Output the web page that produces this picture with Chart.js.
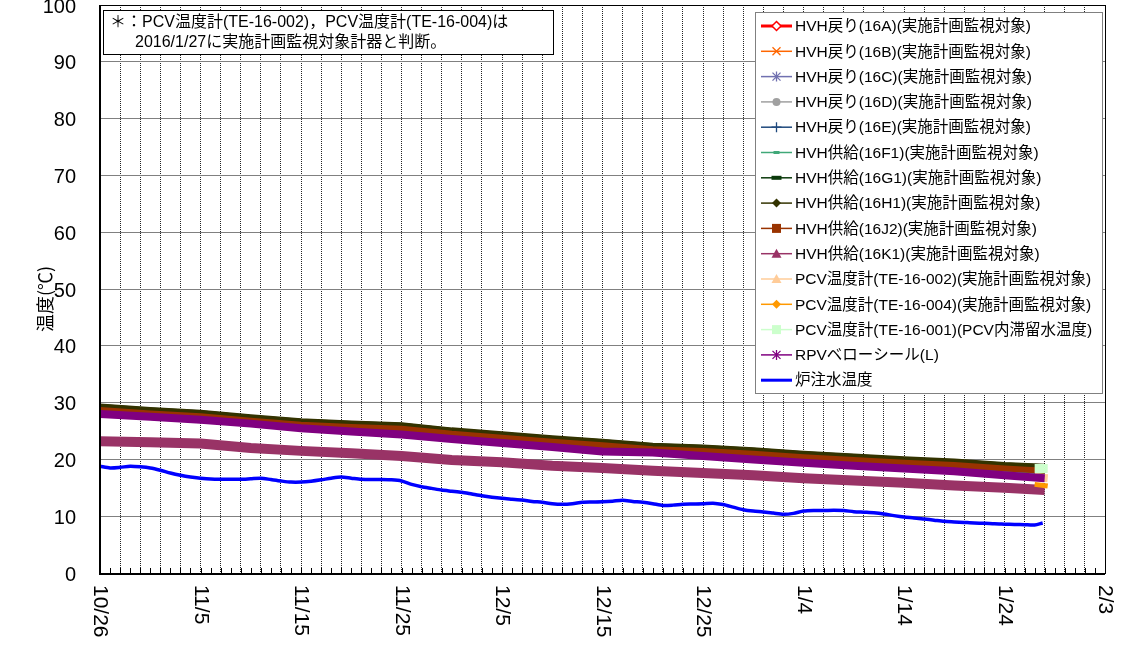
<!DOCTYPE html>
<html><head><meta charset="utf-8">
<script src="https://cdn.jsdelivr.net/npm/chart.js@4.4.0/dist/chart.umd.min.js"></script>
<style>html,body{margin:0;padding:0;background:#fff;}#wrap{width:1124px;height:652px;}</style>
</head><body><div id="wrap"><canvas id="c" width="1124" height="652"></canvas></div>
<script>
// ---------- data ----------
const xTickDays = [0, 10, 20, 30, 40, 50, 60, 70, 80, 90, 100];
const xTickLabels = ['10/26', '11/5', '11/15', '11/25', '12/5', '12/15', '12/25', '1/4', '1/14', '1/24', '2/3'];
const yTickValues = [0, 10, 20, 30, 40, 50, 60, 70, 80, 90, 100];

// days since 10/26 for the HVH / RPV band samples
const bandDays = [0, 5, 10, 15, 20, 25, 30, 35, 40, 45, 50, 55, 60, 65, 70, 75, 80, 85, 90, 94];
const hvh16A  = [29.0,28.4,27.9,27.1,26.4,26.0,25.7,24.8,24.1,23.4,22.8,22.1,21.8,21.3,20.7,20.2,19.7,19.3,18.7,18.4];
const hvh16B  = [28.5,27.9,27.4,26.6,25.9,25.5,25.2,24.3,23.6,22.9,22.3,21.6,21.3,20.8,20.2,19.7,19.2,18.8,18.2,17.8];
const hvh16C  = [28.3,27.8,27.3,26.5,25.8,25.3,25.0,24.1,23.4,22.7,22.0,21.5,21.1,20.6,20.0,19.5,19.0,18.6,18.0,17.5];
const hvh16D  = [28.2,27.7,27.2,26.4,25.7,25.1,24.8,23.9,23.2,22.5,21.8,21.4,20.9,20.4,19.8,19.3,18.8,18.3,17.7,17.2];
const hvh16E  = [28.6,28.0,27.5,26.7,26.0,25.6,25.3,24.4,23.7,23.0,22.4,21.7,21.4,20.9,20.3,19.8,19.3,18.9,18.3,17.9];
const hvh16F1 = [28.4,27.8,27.3,26.5,25.8,25.4,25.1,24.2,23.5,22.8,22.1,21.6,21.2,20.7,20.1,19.6,19.1,18.7,18.1,17.6];
const hvh16G1 = [29.3,28.7,28.2,27.4,26.7,26.3,26.0,25.1,24.4,23.7,23.1,22.4,22.1,21.6,21.0,20.5,20.0,19.6,19.0,18.7];
const hvh16H1 = [29.4,28.8,28.3,27.5,26.8,26.4,26.1,25.2,24.5,23.8,23.2,22.5,22.2,21.7,21.1,20.6,20.1,19.7,19.1,18.8];
const hvh16J2 = [28.7,28.1,27.6,26.8,26.1,25.7,25.4,24.5,23.8,23.1,22.5,21.8,21.5,21.0,20.4,19.9,19.4,19.0,18.4,18.0];
const hvh16K1 = [23.2,23.0,22.8,22.0,21.5,21.1,20.6,19.9,19.5,18.9,18.5,18.0,17.6,17.2,16.7,16.3,15.9,15.4,15.0,14.6];
const rpvBellows = [28.0,27.5,27.0,26.3,25.5,24.9,24.4,23.6,22.9,22.2,21.4,21.2,20.6,20.0,19.4,18.9,18.4,17.9,17.2,16.7];

// PCV thermometers (only the last days)
const pcvDays = [93, 94.3];
const te16002 = [16.9, 16.7];
const te16004 = [15.6, 15.3];
const te16001 = [18.4, 18.4];

// reactor injection water temperature, one value per day from 10/26
const injDays = [0,1,2,3,4,5,6,7,8,9,10,11,12,13,14,15,16,17,18,19,20,21,22,23,24,25,26,27,28,29,30,31,32,33,34,35,36,37,38,39,40,41,42,43,44,45,46,47,48,49,50,51,52,53,54,55,56,57,58,59,60,61,62,63,64,65,66,67,68,69,70,71,72,73,74,75,76,77,78,79,80,81,82,83,84,85,86,87,88,89,90,91,92,93,93.8];
const injTemp = [18.8,18.5,18.6,18.8,18.7,18.5,18.1,17.6,17.2,16.9,16.7,16.55,16.5,16.5,16.5,16.6,16.7,16.45,16.2,16.0,
  16.0,16.15,16.4,16.7,16.9,16.7,16.5,16.45,16.45,16.4,16.2,15.6,15.2,14.9,14.6,14.4,14.2,13.9,13.6,13.35,
  13.15,13.0,12.85,12.6,12.45,12.2,12.1,12.2,12.45,12.5,12.55,12.65,12.8,12.6,12.45,12.2,11.9,11.95,12.1,12.15,
  12.2,12.3,12.05,11.6,11.15,10.9,10.75,10.55,10.35,10.5,10.9,11.0,11.0,11.05,11.0,10.8,10.7,10.6,10.4,10.1,
  9.85,9.7,9.5,9.3,9.1,9.0,8.9,8.8,8.75,8.65,8.6,8.55,8.5,8.45,8.8];

const seriesNames = [
  'HVH戻り(16A)(実施計画監視対象)', 'HVH戻り(16B)(実施計画監視対象)', 'HVH戻り(16C)(実施計画監視対象)',
  'HVH戻り(16D)(実施計画監視対象)', 'HVH戻り(16E)(実施計画監視対象)', 'HVH供給(16F1)(実施計画監視対象)',
  'HVH供給(16G1)(実施計画監視対象)', 'HVH供給(16H1)(実施計画監視対象)', 'HVH供給(16J2)(実施計画監視対象)',
  'HVH供給(16K1)(実施計画監視対象)', 'PCV温度計(TE-16-002)(実施計画監視対象)', 'PCV温度計(TE-16-004)(実施計画監視対象)',
  'PCV温度計(TE-16-001)(PCV内滞留水温度)', 'RPVベローシール(L)', '炉注水温度'
];
const noteLines = ['＊：PCV温度計(TE-16-002)，PCV温度計(TE-16-004)は', '2016/1/27に実施計画監視対象計器と判断。'];
const yTitle = '温度(℃)';

// ---------- styles ----------
const LAT = '"Liberation Sans", "Noto Sans CJK JP", sans-serif';
const styles = [
  {c:'#FF0000', w:3, lw:3, m:'diamondOpen'},
  {c:'#FF6600', w:3, lw:1.5, m:'x'},
  {c:'#7070B0', w:3, lw:1.5, m:'asterisk'},
  {c:'#A0A0A0', w:3, lw:1.5, m:'circle'},
  {c:'#1F497D', w:3, lw:1.5, m:'plus'},
  {c:'#40A878', w:3, lw:1.5, m:'dash'},
  {c:'#0B3A0B', w:5, lw:1.5, m:'dashBig'},
  {c:'#333300', w:5, lw:1.5, m:'diamond'},
  {c:'#993300', w:6, lw:1.5, m:'square'},
  {c:'#993366', w:10, lw:1.5, m:'triangle'},
  {c:'#FFCC99', w:8, lw:1.5, m:'triangle'},
  {c:'#FF9900', w:5, lw:1.5, m:'diamond'},
  {c:'#CCFFCC', w:9, lw:1.5, m:'square'},
  {c:'#800080', w:8, lw:1.5, m:'asterisk'},
  {c:'#0000FF', w:3.5, lw:3, m:'none'}
];
const seriesData = [
  [bandDays, hvh16A], [bandDays, hvh16B], [bandDays, hvh16C], [bandDays, hvh16D], [bandDays, hvh16E],
  [bandDays, hvh16F1], [bandDays, hvh16G1], [bandDays, hvh16H1], [bandDays, hvh16J2], [bandDays, hvh16K1],
  [pcvDays, te16002], [pcvDays, te16004], [pcvDays, te16001], [bandDays, rpvBellows], [injDays, injTemp]
];

const datasets = seriesData.map(([xs, ys], i) => ({
  label: seriesNames[i],
  data: xs.map((d, k) => ({x: d, y: ys[k]})),
  borderColor: styles[i].c,
  backgroundColor: styles[i].c,
  borderWidth: styles[i].w,
  pointRadius: 0,
  tension: i === 14 ? 0.25 : 0,
  borderCapStyle: 'butt',
  borderJoinStyle: 'round',
  order: 100 - i
}));

function drawMarker(ctx, type, x, y, color) {
  ctx.save();
  ctx.strokeStyle = color; ctx.fillStyle = color; ctx.lineWidth = 1.3;
  ctx.beginPath();
  switch (type) {
    case 'diamondOpen':
      ctx.moveTo(x, y-4.5); ctx.lineTo(x+4.5, y); ctx.lineTo(x, y+4.5); ctx.lineTo(x-4.5, y); ctx.closePath();
      ctx.fillStyle = '#fff'; ctx.fill(); ctx.lineWidth = 1.5; ctx.stroke(); break;
    case 'x':
      ctx.moveTo(x-4, y-4); ctx.lineTo(x+4, y+4); ctx.moveTo(x+4, y-4); ctx.lineTo(x-4, y+4); ctx.stroke(); break;
    case 'asterisk':
      ctx.moveTo(x-4, y-4); ctx.lineTo(x+4, y+4); ctx.moveTo(x+4, y-4); ctx.lineTo(x-4, y+4);
      ctx.moveTo(x, y-5); ctx.lineTo(x, y+5); ctx.stroke(); break;
    case 'circle':
      ctx.arc(x, y, 4, 0, Math.PI*2); ctx.fill(); break;
    case 'plus':
      ctx.moveTo(x, y-5); ctx.lineTo(x, y+5); ctx.moveTo(x-5, y); ctx.lineTo(x+5, y); ctx.stroke(); break;
    case 'dash':
      ctx.fillRect(x-3, y-1.5, 6, 3); break;
    case 'dashBig':
      ctx.fillRect(x-5, y-2, 10, 4); break;
    case 'diamond':
      ctx.moveTo(x, y-4.5); ctx.lineTo(x+4.5, y); ctx.lineTo(x, y+4.5); ctx.lineTo(x-4.5, y); ctx.closePath(); ctx.fill(); break;
    case 'square':
      ctx.fillRect(x-4.5, y-4.5, 9, 9); break;
    case 'triangle':
      ctx.moveTo(x, y-5); ctx.lineTo(x+5, y+4); ctx.lineTo(x-5, y+4); ctx.closePath(); ctx.fill(); break;
  }
  ctx.restore();
}

const overlay = {
  id: 'overlay',
  afterDatasetsDraw(chart) {
    const {ctx, chartArea: a, scales: {x}} = chart;
    ctx.save();
    // small day ticks inside the bottom axis
    ctx.strokeStyle = '#000'; ctx.lineWidth = 1;
    for (let d = 0; d <= 100; d++) {
      const px = Math.round(x.getPixelForValue(d)) + 0.5;
      ctx.beginPath(); ctx.moveTo(px, a.bottom); ctx.lineTo(px, a.bottom - 5); ctx.stroke();
    }
    // frame
    ctx.strokeStyle = '#000'; ctx.lineWidth = 1;
    ctx.strokeRect(Math.round(a.left) + 0.5, Math.round(a.top) + 0.5, Math.round(a.right - a.left), Math.round(a.bottom - a.top));
    ctx.lineWidth = 2;
    ctx.beginPath();
    ctx.moveTo(Math.round(a.left), a.top); ctx.lineTo(Math.round(a.left), a.bottom + 1);
    ctx.lineTo(a.right, a.bottom + 1);
    ctx.stroke();

    // note box
    ctx.fillStyle = '#fff'; ctx.fillRect(103, 10, 450, 44);
    ctx.strokeStyle = '#000'; ctx.lineWidth = 1; ctx.strokeRect(103.5, 10.5, 450, 44);
    ctx.fillStyle = '#000'; ctx.font = '16px ' + LAT; ctx.textBaseline = 'middle'; ctx.textAlign = 'left';
    ctx.fillText(noteLines[0], 110, 23);
    ctx.fillText(noteLines[1], 135, 43);

    // legend box
    const lx = 755, ly = 12, lw = 347, lh = 381;
    ctx.fillStyle = '#fff'; ctx.fillRect(lx, ly, lw, lh);
    ctx.strokeStyle = '#808080'; ctx.lineWidth = 1; ctx.strokeRect(lx + 0.5, ly + 0.5, lw, lh);
    ctx.font = '15.5px ' + LAT;
    seriesNames.forEach((name, i) => {
      const yy = 26 + i * 25.3;
      const st = styles[i];
      ctx.strokeStyle = st.c; ctx.lineWidth = st.lw;
      ctx.beginPath(); ctx.moveTo(761, yy); ctx.lineTo(792, yy); ctx.stroke();
      drawMarker(ctx, st.m, 776.5, yy, st.c);
      ctx.fillStyle = '#000'; ctx.textAlign = 'left'; ctx.textBaseline = 'middle';
      ctx.fillText(name, 795, yy + 1);
    });
    ctx.restore();
  },
  afterDraw(chart) {
    const {ctx, chartArea: a, scales: {x}} = chart;
    ctx.save();
    ctx.fillStyle = '#000';
    ctx.font = '21px ' + LAT;
    ctx.textAlign = 'left'; ctx.textBaseline = 'middle';
    xTickDays.forEach((d, i) => {
      const px = x.getPixelForValue(d);
      ctx.save(); ctx.translate(px, a.bottom + 12); ctx.rotate(Math.PI / 2);
      ctx.fillText(xTickLabels[i], 0, 0); ctx.restore();
    });
    ctx.font = '18px "Noto Sans CJK JP", ' + LAT;
    ctx.save(); ctx.translate(45, 299); ctx.rotate(-Math.PI / 2);
    ctx.textAlign = 'center'; ctx.fillText(yTitle, 0, 0); ctx.restore();
    ctx.restore();
  }
};

const chart = new Chart(document.getElementById('c'), {
  type: 'line',
  data: {datasets},
  options: {
    responsive: false, animation: false, devicePixelRatio: 1,
    layout: {padding: {top: 5, right: 19, left: 0, bottom: 0}},
    plugins: {legend: {display: false}, tooltip: {enabled: false}},
    scales: {
      x: {
        type: 'linear', min: 0, max: 100,
        afterFit: s => { s.height = 79; s.paddingLeft = 0; s.paddingRight = 0; },
        ticks: {stepSize: 2, display: false},
        grid: {color: '#222', drawTicks: false, lineWidth: 1},
        border: {display: false, dash: [1, 1]}
      },
      y: {
        min: 0, max: 100,
        afterFit: s => { s.width = 100; s.paddingTop = 0; s.paddingBottom = 0; },
        afterBuildTicks: s => { s.ticks = yTickValues.map(v => ({value: v})); },
        ticks: {color: '#000', font: {size: 20, family: LAT}, padding: 24, labelOffset: 2},
        grid: {color: '#808080', drawTicks: false, lineWidth: 1},
        border: {display: false}
      }
    }
  },
  plugins: [overlay]
});
</script>
</body></html>
